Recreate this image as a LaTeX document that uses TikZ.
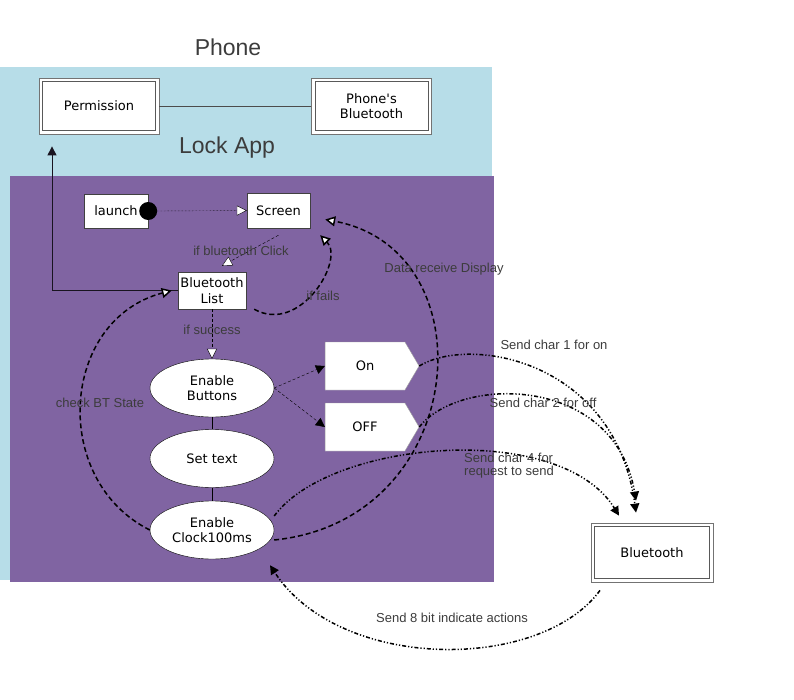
\documentclass[tikz,border=0pt]{standalone}
\usepackage{fontspec}
\setmainfont{Liberation Sans}
\newfontfamily\boxfont{DejaVu Sans}
\usetikzlibrary{arrows.meta,shapes.geometric,shapes.symbols}
\definecolor{phoneblue}{HTML}{B7DDE8}
\definecolor{apppurple}{HTML}{8064A2}
\definecolor{lbltext}{HTML}{3C3C3C}
\tikzset{
  box/.style={draw=black!75,fill=white,font=\boxfont\fontsize{13}{15.5}\selectfont,align=center,inner sep=2pt},
  dbox/.style={box,draw=black!55,line width=0.8pt,minimum width=120pt,minimum height=56pt},
  inner/.style={draw=black!65,line width=0.8pt},
  ell/.style={ellipse,draw=black,fill=white,minimum width=124pt,minimum height=58pt,inner sep=0pt,align=center,font=\boxfont\fontsize{13}{15.5}\selectfont},
  tag/.style={signal,signal to=east,signal pointer angle=119,draw=black!40,fill=white,minimum width=94pt,minimum height=48pt,font=\boxfont\fontsize{13}{15.5}\selectfont},
  lbl/.style={text=lbltext,font=\fontsize{13}{15}\selectfont,align=left,inner sep=1pt},
  title/.style={text=lbltext,font=\fontsize{23}{26}\selectfont},
  whitehead/.style={-{Triangle[fill=white,length=10pt,width=10pt]}},
  blackhead/.style={-{Triangle[length=9pt,width=9pt]}},
  longdash/.style={line width=1.5pt,dash pattern=on 5pt off 3pt},
  dashdotdot/.style={line width=1.5pt,dash pattern=on 4pt off 2pt on 1.2pt off 2pt on 1.2pt off 2pt}
}
\begin{document}
\begin{tikzpicture}[x=1pt,y=-1pt]
  \useasboundingbox (0,0) rectangle (794,700);

  % phone and app areas
  \fill[phoneblue] (0,67) rectangle (492,580);
  \fill[apppurple] (10,176) rectangle (494,582);
  \node[title] (phone) at (228,47) {Phone};
  \node[title] (lockapp) at (227,148) {Lock App};

  % phone boxes
  \node[dbox] (perm) at (99,106) {Permission};
  \node[dbox] (phonebt) at (371.5,106) {Phone's\\Bluetooth};
  \draw[black!70,line width=0.8pt] (perm) -- (phonebt);

  % app states
  \node[box,minimum width=64pt,minimum height=34pt] (launch) at (116,211) {launch};
  \fill (launch.east) circle (9pt) coordinate (start);
  \node[box,minimum width=63pt,minimum height=35pt] (screen) at (278.5,210.5) {Screen};
  \node[box,minimum width=68pt,minimum height=37pt] (btlist) at (212,290.5) {Bluetooth\\List};
  \node[ell] (enable) at (212,388) {Enable\\Buttons};
  \node[ell] (settext) at (212,458.5) {Set text};
  \node[ell] (clock) at (212,530) {Enable\\Clock100ms};
  \node[tag] (on) at (365,366) {On};
  \node[tag] (off) at (365,427) {OFF};
  \node[dbox,minimum width=122pt,minimum height=59pt] (bt) at (652,552.5) {Bluetooth};

  % inner frames of the double boxes
  \foreach \b in {perm,phonebt,bt}
    \draw[inner] ([shift={(4pt,-4pt)}]\b.north west) rectangle ([shift={(-4pt,4pt)}]\b.south east);

  % app links
  \draw[densely dotted,whitehead] ([xshift=9pt]launch.east) -- (screen.west);
  \draw[densely dashed,whitehead] ([yshift=-7pt]screen.south) -- ([xshift=10pt,yshift=6pt]btlist.north);
  \draw[densely dashed,whitehead] (btlist.south) -- (enable.north);
  \draw[black!80!apppurple,line width=1pt,blackhead] (btlist.west) -| ([xshift=-47pt,yshift=-12pt]perm.south);
  \draw (enable) -- (settext);
  \draw (settext) -- (clock);
  \draw[densely dashed,blackhead] (enable.east) -- (on.west);
  \draw[densely dashed,blackhead] (enable.east) -- (off.west);

  % loops
  \draw[longdash,whitehead] ([xshift=8pt]btlist.south east) .. controls (300,335) and (345,260) .. ([xshift=10pt,yshift=-7pt]screen.south east);
  \draw[longdash,whitehead] (clock.west) .. controls (50,480) and (60,320) .. ([xshift=-6pt]btlist.west);
  \draw[longdash,whitehead] ([yshift=-10pt]clock.east) .. controls (470,520) and (490,250) .. ([xshift=15pt,yshift=-9pt]screen.east);

  % bluetooth messages
  \draw[dashdotdot,blackhead] (on.east) .. controls (470,335) and (615,360) .. ([xshift=-16pt,yshift=10pt]bt.north);
  \draw[dashdotdot,blackhead] (off.east) .. controls (460,375) and (615,375) .. ([xshift=-16pt,yshift=22pt]bt.north);
  \draw[dashdotdot,blackhead] ([yshift=14pt]clock.east) .. controls (330,440) and (560,420) .. ([xshift=-33pt,yshift=7pt]bt.north);
  \draw[dashdotdot,blackhead] ([xshift=-52pt,yshift=-8pt]bt.south) .. controls (540,672) and (340,672) .. ([xshift=58pt,yshift=-6pt]clock.south);

  % labels
  \node[lbl] (lclick) at (241,251) {if bluetooth Click};
  \node[lbl] (lsuccess) at (212,330) {if success};
  \node[lbl] (lfails) at (323,296) {if fails};
  \node[lbl] (lstate) at (100,403) {check BT State};
  \node[lbl] (ldata) at (444,269) {Data receive Display};
  \node[lbl] (lone) at (554,345) {Send char 1 for on};
  \node[lbl] (ltwo) at (543,403) {Send char 2 for off};
  \node[lbl,anchor=west] (lfour) at (463,465.5) {Send char 4 for\\[-2pt]request to send};
  \node[lbl] (leight) at (452,618) {Send 8 bit indicate actions};
\end{tikzpicture}
\end{document}
